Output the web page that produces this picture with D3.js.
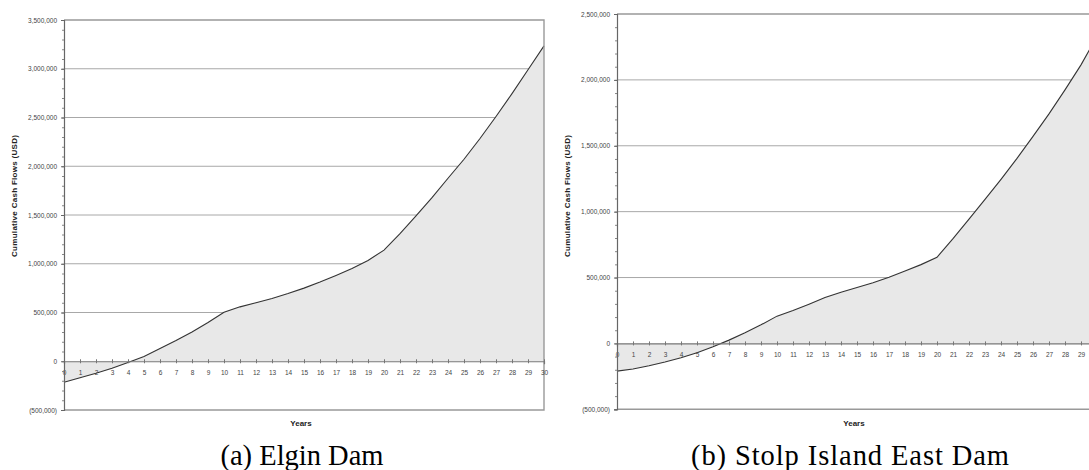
<!DOCTYPE html>
<html>
<head>
<meta charset="utf-8">
<script src="https://cdn.jsdelivr.net/npm/d3@7"></script>
<style>
  html, body { margin: 0; padding: 0; background: #fff; }
  svg { display: block; }
  .tick-label { font-family: "Liberation Sans", Arial, sans-serif; font-size: 6.5px; fill: #444; }
  .axis-title { font-family: "Liberation Sans", Arial, sans-serif; font-size: 8px; font-weight: bold; fill: #222; }
  .caption { font-family: "Liberation Serif", "Times New Roman", serif; font-size: 28.5px; fill: #000; }
</style>
</head>
<body>
<svg id="chart" width="1089" height="470"></svg>
<script>
// Project years (x axis categories)
const years = [0, 1, 2, 3, 4, 5, 6, 7, 8, 9, 10, 11, 12, 13, 14, 15, 16, 17, 18, 19, 20,
               21, 22, 23, 24, 25, 26, 27, 28, 29, 30];

// Cumulative cash flows (USD) per year
const elginCumulative = [-215000, -170000, -123000, -72000, -12000, 48000, 130000, 212000, 301000,
  397000, 503000, 558000, 600000, 644000, 695000, 750000, 812000, 880000, 952000, 1034000,
  1140000, 1308000, 1490000, 1678000, 1877000, 2072000, 2285000, 2510000, 2745000, 2990000, 3235000];

const stolpCumulative = [-210000, -194000, -169000, -141000, -109000, -71000, -25000, 25000, 81000,
  141000, 207000, 250000, 298000, 348000, 389000, 424000, 460000, 502000, 550000, 598000,
  654000, 795000, 944000, 1093000, 1245000, 1404000, 1571000, 1742000, 1924000, 2114000, 2330000];

// Major y ticks for each panel
const elginYTicks = [-500000, 0, 500000, 1000000, 1500000, 2000000, 2500000, 3000000, 3500000];
const stolpYTicks = [-500000, 0, 500000, 1000000, 1500000, 2000000, 2500000];

// Text
const yAxisTitle = "Cumulative Cash Flows  (USD)";
const xAxisTitle = "Years";
const captions = ["(a) Elgin Dam", "(b) Stolp Island East Dam"];

const svg = d3.select("#chart");
const pageWidth = 1089;

const fmtNum = d3.format(",");
const fmtMoney = v => v < 0 ? "(" + fmtNum(-v) + ")" : fmtNum(v);

function drawPanel(opts) {
  const { values, yTicks, left, right, top, bottom, caption, captionX, captionLength } = opts;
  const x = d3.scaleLinear().domain([0, 30]).range([left, right]);
  const y = d3.scaleLinear().domain([yTicks[0], yTicks[yTicks.length - 1]]).range([bottom, top]);
  const data = years.map((yr, i) => ({ yr, v: values[i] }));

  const g = svg.append("g");

  // horizontal gridlines at major ticks
  g.append("g").selectAll("line")
    .data(yTicks.filter(t => t !== 0 && t !== yTicks[0] && t !== yTicks[yTicks.length - 1]))
    .join("line")
    .attr("x1", left).attr("x2", right)
    .attr("y1", d => y(d)).attr("y2", d => y(d))
    .attr("stroke", "#a8a8a8").attr("stroke-width", 1);

  // area between curve and zero
  const area = d3.area()
    .x(d => x(d.yr))
    .y0(y(0))
    .y1(d => y(d.v));
  g.append("path").datum(data)
    .attr("d", area)
    .attr("fill", "#e8e8e8");

  // curve
  const line = d3.line().x(d => x(d.yr)).y(d => y(d.v));
  g.append("path").datum(data)
    .attr("d", line)
    .attr("fill", "none")
    .attr("stroke", "#333")
    .attr("stroke-width", 1.1);

  // plot frame (top, right, bottom)
  g.append("path")
    .attr("d", `M${left},${top}H${right}V${bottom}H${left}`)
    .attr("fill", "none")
    .attr("stroke", "#999")
    .attr("stroke-width", 1.4);

  // x axis along zero; labels that would fall past the page edge are skipped
  const xAxis = d3.axisBottom(x)
    .tickValues(years.filter(yr => x(yr) + 6 < pageWidth))
    .tickSize(3)
    .tickPadding(6)
    .tickFormat(d => d);
  const xg = g.append("g")
    .attr("transform", `translate(0,${y(0)})`)
    .call(xAxis);
  xg.select(".domain").attr("stroke", "#777").attr("stroke-width", 1.2);
  xg.selectAll(".tick line").attr("stroke", "#777").attr("y1", -2).attr("y2", 2);
  xg.selectAll(".tick text").attr("class", "tick-label").attr("fill", null);

  // y axis with minor ticks
  const minorTicks = d3.range(yTicks[0], yTicks[yTicks.length - 1] + 1, 100000);
  const yMinor = d3.axisLeft(y).tickValues(minorTicks).tickSize(2).tickFormat("");
  const ym = g.append("g").attr("transform", `translate(${left},0)`).call(yMinor);
  ym.select(".domain").remove();
  ym.selectAll(".tick line").attr("stroke", "#888");

  const yAxis = d3.axisLeft(y)
    .tickValues(yTicks)
    .tickSize(3)
    .tickPadding(4)
    .tickFormat(fmtMoney);
  const yg = g.append("g").attr("transform", `translate(${left},0)`).call(yAxis);
  yg.select(".domain").attr("stroke", "#666").attr("stroke-width", 1.2);
  yg.selectAll(".tick line").attr("stroke", "#666");
  yg.selectAll(".tick text").attr("class", "tick-label").attr("fill", null);

  // axis titles
  const midY = 196;
  svg.append("text")
    .attr("class", "axis-title")
    .attr("transform", `translate(${left - 47},${midY}) rotate(-90)`)
    .attr("text-anchor", "middle")
    .attr("textLength", 122)
    .attr("lengthAdjust", "spacing")
    .text(yAxisTitle);

  svg.append("text")
    .attr("class", "axis-title")
    .attr("x", (left + right) / 2 - 3)
    .attr("y", 426)
    .attr("text-anchor", "middle")
    .text(xAxisTitle);

  // caption
  const cap = svg.append("text")
    .attr("class", "caption")
    .attr("x", captionX)
    .attr("y", 465)
    .attr("text-anchor", "middle")
    .text(caption);
  if (captionLength) {
    cap.attr("textLength", captionLength).attr("lengthAdjust", "spacing");
  }
}

drawPanel({
  values: elginCumulative, yTicks: elginYTicks,
  left: 64, right: 544, top: 20, bottom: 410,
  caption: captions[0], captionX: 302
});

drawPanel({
  values: stolpCumulative, yTicks: stolpYTicks,
  left: 617, right: 1097, top: 14, bottom: 409.3,
  caption: captions[1], captionX: 850, captionLength: 318
});
</script>
</body>
</html>
